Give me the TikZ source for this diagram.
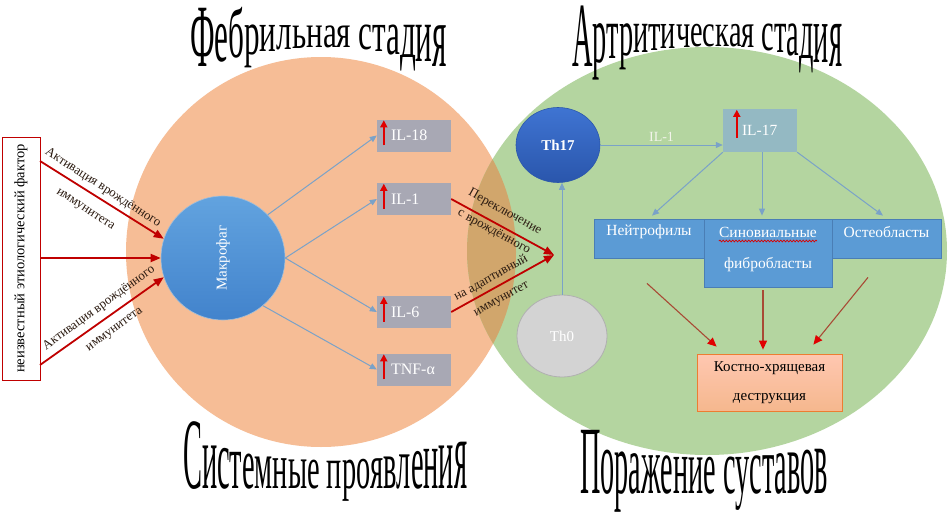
\documentclass[tikz,border=0pt]{standalone}
\usepackage{fontspec}
\setmainfont{Liberation Serif}
\newfontfamily\titlefont{Liberation Serif}
\usepackage{graphicx}
\usetikzlibrary{arrows.meta,calc,shapes.geometric,decorations.pathmorphing}

\definecolor{orangebg}{HTML}{F6BD96}
\definecolor{greenbg}{HTML}{B4D5A0}
\definecolor{overlapbg}{HTML}{D1A66C}
\definecolor{conblue}{HTML}{7AA2C8}
\definecolor{ilgrey}{HTML}{A8A8B4}
\definecolor{ilteal}{HTML}{94B9C3}
\definecolor{cellblue}{HTML}{5B9BD5}
\definecolor{cellborder}{HTML}{4A7EB5}
\definecolor{darkred}{HTML}{C00000}
\definecolor{arrred}{HTML}{E00000}
\definecolor{brownline}{HTML}{A84A35}
\definecolor{thzero}{HTML}{D3D3D3}
\definecolor{thzeroborder}{HTML}{B0B0B0}
\definecolor{kdborder}{HTML}{ED7D31}
\definecolor{labeltext}{HTML}{2A1A10}
\definecolor{ilonetext}{HTML}{F2F4EA}
\definecolor{macrotop}{HTML}{62A3DF}
\definecolor{macrobot}{HTML}{4283CC}
\definecolor{thtop}{HTML}{3F74D2}
\definecolor{thbot}{HTML}{2A56AC}

\newcommand\wtfont{\titlefont\fontsize{20}{20}\selectfont}
% warped title as one text: #1 number of chars, #2 x scale, #3 top line centre, #4 top coeff,
% #5 baseline centre, #6 baseline coeff, #7 chars
\newcommand\warpchars[7]{%
  \foreach \wtch [count=\wti] in {#7}{%
    \pgfmathsetmacro\wtt{(2*\wti-1)/#1-1}%
    \pgfmathsetmacro\wttop{#3+(#4)*\wtt*\wtt}%
    \pgfmathsetmacro\wtbase{#5+(#6)*\wtt*\wtt}%
    \pgfmathsetmacro\wtky{(\wtbase-\wttop)/9.1}%
    \pgfmathsetmacro\wtr{#5-\wtbase}%
    \raisebox{\wtr pt}{\scalebox{#2}[\wtky]{\wtfont\wtch}}%
  }%
}

\begin{document}
\begin{tikzpicture}[x=1pt,y=-1pt,
  bluearrow/.style={draw=conblue, line width=1pt, -{Triangle[length=7pt,width=6pt]}},
  redarrow/.style={draw=darkred, line width=1.8pt, -{Triangle[length=10pt,width=8pt]}},
  brownarrow/.style={draw=brownline, line width=1.1pt, -{Triangle[length=9pt,width=8pt,color=arrred]}},
  upred/.style={draw=arrred, line width=1.6pt, -{Triangle[length=7pt,width=7pt]}},
  ilbox/.style={rectangle, fill=ilgrey, minimum width=74pt, minimum height=32pt, text width=46pt, inner xsep=0pt, inner ysep=0pt, align=left, text=white, font=\fontsize{16}{18}\selectfont},
  cellbox/.style={rectangle, draw=cellborder, fill=cellblue, line width=0.8pt, inner sep=0pt},
  celltext/.style={inner sep=0pt, text=white, font=\fontsize{15.5}{18}\selectfont},
  lbl/.style={inner sep=0pt, text=labeltext, font=\fontsize{13}{15}\selectfont},
  titlenode/.style={anchor=base west, inner sep=0pt},
]
\useasboundingbox (0,0) rectangle (951,514);
\fill[white] (0,0) rectangle (951,514);

% background circles
\fill[orangebg] (321,252) circle[radius=195pt];
\fill[greenbg] (707,251) ellipse[x radius=240pt, y radius=204pt];
\begin{scope}
  \clip (321,252) circle[radius=195pt];
  \fill[overlapbg] (707,251) ellipse[x radius=240pt, y radius=204pt];
\end{scope}

% titles
\node[titlenode] (title1) at (190,47) {\warpchars{17}{1.556}{26}{0}{47}{22}{Ф,е,б,р,и,л,ь,н,а,я,~,с,т,а,д,и,я}};
\node[titlenode] (title2) at (572,46) {\warpchars{20}{1.417}{25}{0}{46}{23}{А,р,т,р,и,т,и,ч,е,с,к,а,я,~,с,т,а,д,и,я}};
\node[titlenode] (title3) at (183,488) {\warpchars{20}{1.42}{461}{-21}{488}{0}{С,и,с,т,е,м,н,ы,е,~,п,р,о,я,в,л,е,н,и,я}};
\node[titlenode] (title4) at (580,493) {\warpchars{18}{1.41}{458}{-10}{493}{0}{П,о,р,а,ж,е,н,и,е,~,с,у,с,т,а,в,о,в}};

% left factor box
\node[draw=darkred, fill=white, line width=1pt, minimum width=38pt, minimum height=243pt, inner sep=0pt,
      font=\fontsize{14.5}{16}\selectfont] (lb) at (21,258.5) {\rotatebox{90}{неизвестный этиологический фактор}};

% macrophage
\node[circle, minimum size=124pt, inner sep=0pt, draw=conblue!70, line width=0.6pt,
      top color=macrotop, bottom color=macrobot,
      text=white, font=\fontsize{15}{18}\selectfont] (mac) at (223,258) {\rotatebox{90}{Макрофаг}};

\coordinate (s1) at (40,161);
\coordinate (s2) at (40,258);
\coordinate (s3) at (40,365);
\draw[redarrow] (s1) -- (mac.162);
\draw[redarrow] (s2) -- (mac.west);
\draw[redarrow] (s3) -- (mac.198);

\node[lbl, rotate=-33] (la1) at (103,188) {Активация врождённого};
\node[lbl, rotate=-33] (la2) at (85,210) {иммунитета};
\node[lbl, rotate=36] (lb1) at (99,308) {Активация врождённого};
\node[lbl, rotate=36] (lb2) at (115,330) {иммунитета};

% IL boxes
\node[ilbox] (il18) at (414,135.5) {IL-18};
\node[ilbox] (il1) at (414,199) {IL-1};
\node[ilbox] (il6) at (414,312) {IL-6};
\node[ilbox] (tnf) at (414,369.5) {TNF-α};
\foreach \b in {il18,il1,il6,tnf}{
  \draw[upred] ($(\b.north west)+(7,26)$) -- ($(\b.north west)+(7,1)$);
}

\draw[bluearrow] (mac.44) -- (il18.west);
\draw[bluearrow] (mac.east) -- (il1.west);
\draw[bluearrow] (mac.east) -- (il6.west);
\draw[bluearrow] (mac.-50) -- (tnf.west);

% switch arrows
\coordinate (sw) at (554,255);
\draw[redarrow] (il1.east) -- (sw);
\draw[redarrow] (il6.east) -- (sw);
\node[lbl, rotate=-29] (lc1) at (505,212) {Переключение};
\node[lbl, rotate=-29] (lc2) at (494,232) {с врождённого};
\node[lbl, rotate=29] (lc3) at (491,278) {на адаптивный};
\node[lbl, rotate=29] (lc4) at (502,300) {иммунитет};

% Th cells
\node[ellipse, minimum width=84pt, minimum height=75pt, inner sep=0pt, draw=thbot, line width=0.6pt,
      top color=thtop, bottom color=thbot,
      text=white, font=\bfseries\fontsize{15}{18}\selectfont] (th17) at (558,145) {Th17};
\node[ellipse, minimum width=90pt, minimum height=82pt, inner sep=0pt, draw=thzeroborder, line width=0.8pt,
      fill=thzero, text=white, font=\fontsize{15}{18}\selectfont] (th0) at (562,336) {Th0};
\draw[bluearrow] (th0.north) -- (th0.north |- th17.south);

% IL-17
\node[rectangle, fill=ilteal, minimum width=74pt, minimum height=43pt, text width=36pt, inner xsep=0pt, inner ysep=0pt,
      align=left, text=white, font=\fontsize{15.5}{18}\selectfont] (il17) at (760,130.5) {IL-17\\[3pt]};
\draw[upred] ($(il17.north west)+(14,29)$) -- ($(il17.north west)+(14,1)$);
\draw[bluearrow] (th17.east) -- (th17.east -| il17.west) node[midway, above=3pt, text=ilonetext, font=\fontsize{14}{16}\selectfont, inner sep=0pt] (ilonelbl) {IL-1};

% cell boxes
\node[cellbox, minimum width=110pt, minimum height=39pt] (neut) at (649,238.5) {};
\node[cellbox, minimum width=109pt, minimum height=39pt] (ost) at (886.5,238.5) {};
\node[cellbox, minimum width=128pt, minimum height=68pt] (syn) at (768,253) {};
\node[celltext] (t1) at ($(neut.north)+(0,13)$) {Нейтрофилы};
\node[celltext] (t3) at ($(syn.north)+(0,14)$) {Синовиальные};
\node[celltext] (t4) at ($(syn.north)+(0,46)$) {фибробласты};
\node[celltext] (t5) at ($(ost.north)+(0,13)$) {Остеобласты};
\draw[red!85!black, line width=0.7pt, decorate, decoration={snake, amplitude=0.9pt, segment length=3.2pt}]
  ($(t3.south west)+(0,3)$) -- ($(t3.south east)+(0,3)$);

\draw[bluearrow] (il17.south west) -- ($(neut.north)+(3,-3)$);
\draw[bluearrow] ($(il17.south)+(2,0)$) -- ($(syn.north)+(-6,-3)$);
\draw[bluearrow] (il17.south east) -- ($(ost.north)+(-3.5,-3)$);

% destruction box
\node[rectangle, draw=kdborder, line width=0.8pt, top color=orange!25!pink!70!white, bottom color=kdborder!55!white,
      minimum width=145pt, minimum height=57pt, align=center, inner sep=0pt, text=black,
      font=\fontsize{15}{29}\selectfont] (kd) at (769.5,382.5) {Костно-хрящевая\\деструкция};

\coordinate (b1) at ($(neut.south)+(-2,25)$);
\coordinate (b2) at ($(syn.south)+(-5,3)$);
\coordinate (b3) at ($(ost.south)+(-18.5,19)$);
\draw[brownarrow] (b1) -- ($(kd.north west)+(20,-7)$);
\draw[brownarrow] (b2) -- ($(kd.north)+(-6.5,-4)$);
\draw[brownarrow] (b3) -- ($(kd.north east)+(-29,-9)$);
\end{tikzpicture}
\end{document}
